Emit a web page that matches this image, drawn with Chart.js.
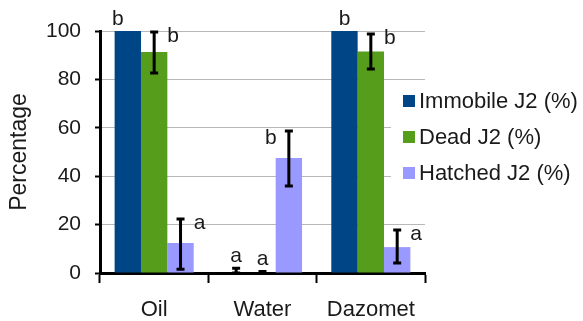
<!DOCTYPE html>
<html lang="en">
<head>
    <meta charset="UTF-8">
    <title>J2 Percentage</title>
    <script src="https://cdn.jsdelivr.net/npm/chart.js"></script>
    <style>
        body { margin: 0; background: #fff; }
        #wrap { width: 583px; height: 321px; }
    </style>
</head>
<body>
    <div id="wrap"><canvas id="chart" width="583" height="321"></canvas></div>

    <script>
        // chart data
        const treatments = ['Oil', 'Water', 'Dazomet'];
        const seriesNames = ['Immobile J2 (%)', 'Dead J2 (%)', 'Hatched J2 (%)'];
        const seriesColors = ['#004586', '#579d1c', '#9999ff'];

        const immobile = [100, 0, 100];
        const dead = [91.3, 0, 91.5];
        const hatched = [12.4, 47.5, 10.7];

        // error bar ends (low, high); null = no bar
        const immobileLo = [null, 0, null];
        const immobileHi = [null, 2, null];
        const deadLo = [82.6, 0, 84.3];
        const deadHi = [99.6, 0.6, 98.8];
        const hatchedLo = [1.6, 36, 4.1];
        const hatchedHi = [22.3, 58.7, 17.8];

        // significance letters and where they sit next to the bar
        const immobileLetters = ['b', 'a', 'b'];
        const deadLetters = ['b', 'a', 'b'];
        const hatchedLetters = ['a', 'b', 'a'];
        const immobileSide = ['aboveLeft', 'above', 'above'];
        const deadSide = ['right', 'above', 'right'];
        const hatchedSide = ['right', 'left', 'right'];

        const yTicks = [0, 20, 40, 60, 80, 100];

        const values = [immobile, dead, hatched];
        const lows = [immobileLo, deadLo, hatchedLo];
        const highs = [immobileHi, deadHi, hatchedHi];
        const letters = [immobileLetters, deadLetters, hatchedLetters];
        const sides = [immobileSide, deadSide, hatchedSide];

        const FONT = "'Liberation Sans', Arial, sans-serif";
        const TEXT = '#1a1a1a';

        const errorBars = {
            id: 'errorBars',
            afterDatasetsDraw(chart) {
                const ctx = chart.ctx;
                const y = chart.scales.y;
                ctx.save();
                ctx.strokeStyle = '#000';
                ctx.lineWidth = 3;
                values.forEach((_, d) => {
                    const meta = chart.getDatasetMeta(d);
                    meta.data.forEach((bar, i) => {
                        if (lows[d][i] == null) return;
                        const yl = y.getPixelForValue(lows[d][i]);
                        const yh = y.getPixelForValue(highs[d][i]);
                        ctx.beginPath();
                        ctx.moveTo(bar.x, yl);
                        ctx.lineTo(bar.x, yh);
                        ctx.moveTo(bar.x - 4, yl);
                        ctx.lineTo(bar.x + 4, yl);
                        ctx.moveTo(bar.x - 4, yh);
                        ctx.lineTo(bar.x + 4, yh);
                        ctx.stroke();
                    });
                });

                // letters
                ctx.fillStyle = TEXT;
                ctx.font = '21px ' + FONT;
                ctx.textAlign = 'center';
                ctx.textBaseline = 'middle';
                values.forEach((vals, d) => {
                    const meta = chart.getDatasetMeta(d);
                    meta.data.forEach((bar, i) => {
                        const top = highs[d][i] != null ? Math.max(highs[d][i], vals[i]) : vals[i];
                        const py = y.getPixelForValue(top);
                        const side = sides[d][i];
                        if (side === 'above') {
                            ctx.fillText(letters[d][i], bar.x, py - 12);
                        } else if (side === 'aboveLeft') {
                            ctx.fillText(letters[d][i], bar.x - 10, py - 12);
                        } else if (side === 'right') {
                            ctx.fillText(letters[d][i], bar.x + 19, py + 4);
                        } else {
                            ctx.fillText(letters[d][i], bar.x - 18, py + 7);
                        }
                    });
                });
                ctx.restore();
            }
        };

        const boxLegend = {
            id: 'boxLegend',
            afterDraw(chart) {
                const ctx = chart.ctx;
                ctx.save();
                ctx.fillStyle = '#fff';
                ctx.fillRect(391, 82, 192, 108);
                ctx.font = '22px ' + FONT;
                ctx.textAlign = 'left';
                ctx.textBaseline = 'middle';
                seriesNames.forEach((name, k) => {
                    const cy = 101 + k * 36;
                    ctx.fillStyle = seriesColors[k];
                    ctx.fillRect(403, cy - 6, 12, 12);
                    ctx.fillStyle = TEXT;
                    ctx.fillText(name, 419, cy + 1);
                });
                ctx.restore();
            }
        };

        new Chart(document.getElementById('chart'), {
            type: 'bar',
            data: {
                labels: treatments,
                datasets: values.map((vals, d) => ({
                    label: seriesNames[d],
                    data: vals,
                    backgroundColor: seriesColors[d],
                    borderWidth: 0,
                    barPercentage: 1,
                    categoryPercentage: 0.73
                }))
            },
            options: {
                responsive: false,
                animation: false,
                layout: { padding: { left: 0, right: 158, top: 31, bottom: 0 } },
                plugins: {
                    legend: { display: false },
                    tooltip: { enabled: false }
                },
                scales: {
                    x: {
                        afterFit(scale) { scale.height = 48; },
                        grid: {
                            offset: true,
                            color: (c) => c.index === 3 ? '#b8b8b8' : 'rgba(0,0,0,0)',
                            lineWidth: 1,
                            drawTicks: true,
                            tickLength: 10,
                            tickColor: '#000',
                            tickWidth: 2
                        },
                        border: { color: '#000', width: 3 },
                        ticks: {
                            color: TEXT,
                            font: { family: FONT, size: 22 },
                            padding: 14
                        }
                    },
                    y: {
                        min: 0,
                        max: 100,
                        afterFit(scale) { scale.width = 100; },
                        afterBuildTicks(scale) {
                            scale.ticks = yTicks.map(v => ({ value: v }));
                        },
                        grid: {
                            color: '#b8b8b8',
                            lineWidth: 1,
                            drawTicks: true,
                            tickLength: 5,
                            tickColor: '#000',
                            tickWidth: 2
                        },
                        border: { color: '#000', width: 3 },
                        ticks: {
                            color: TEXT,
                            font: { family: FONT, size: 21 },
                            padding: 14
                        },
                        title: {
                            display: true,
                            text: 'Percentage',
                            color: TEXT,
                            font: { family: FONT, size: 23 },
                            padding: { top: 6, bottom: 0 }
                        }
                    }
                }
            },
            plugins: [errorBars, boxLegend]
        });
    </script>
</body>
</html>
